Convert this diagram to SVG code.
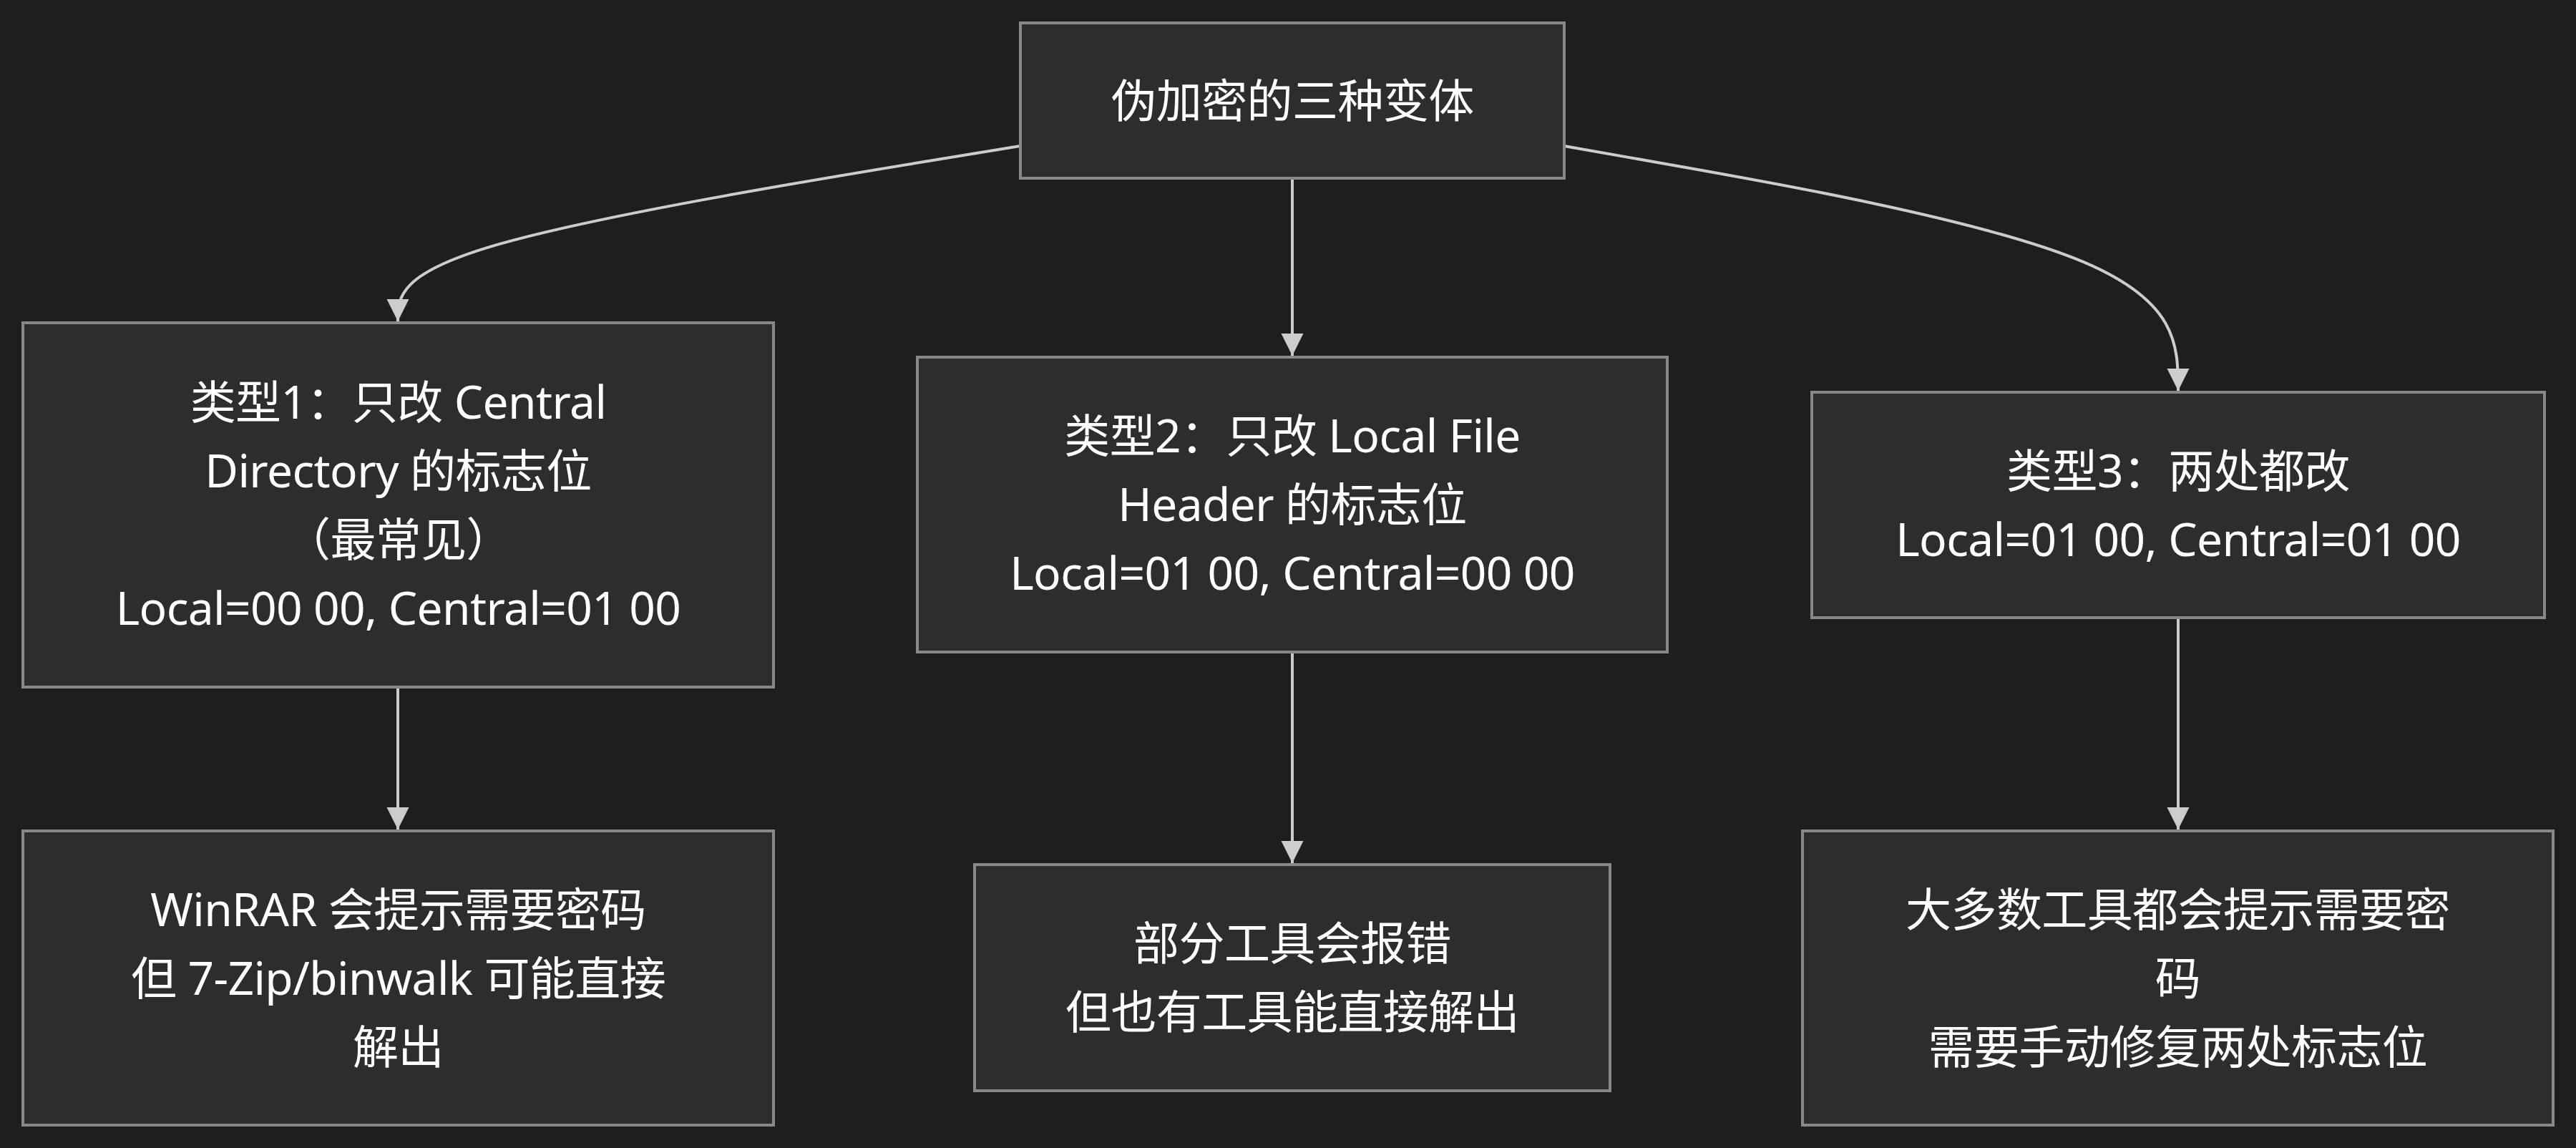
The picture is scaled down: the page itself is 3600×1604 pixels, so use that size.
<svg xmlns="http://www.w3.org/2000/svg" width="3600" height="1604" viewBox="0 0 3600 1604">
  <style>
    .node rect { fill: #2d2d2d; stroke: #888888; stroke-width: 4; }
    .node text { font-family: "Noto Sans", "Noto Sans CJK SC", sans-serif; font-size: 64px; letter-spacing: -0.6px; fill: #ffffff; text-anchor: middle; }
    .edge { fill: none; stroke: #cccccc; stroke-width: 4; }
  </style>
  <defs>
    <marker id="arrow" viewBox="0 0 10 10" refX="10" refY="5" markerUnits="userSpaceOnUse" markerWidth="31" markerHeight="32" orient="auto">
      <path d="M0,0 L10,5 L0,10 z" fill="#cccccc"/>
    </marker>
  </defs>
  <rect x="0" y="0" width="3600" height="1604" fill="#1e1e1e"/>

  <g id="connectors">
    <path class="edge" marker-end="url(#arrow)" d="M1425.5,204 L1280.6,227.8 C1135.7,251.7 845.8,299.3 700.9,340.2 C556,381 556,415 556,449"/>
    <path class="edge" marker-end="url(#arrow)" d="M1806,251 L1806,497"/>
    <path class="edge" marker-end="url(#arrow)" d="M2186,204 L2329,229.2 C2472,254.3 2758,304.7 2901,361.7 C3044,418.7 3044,482.3 3044,546"/>
    <path class="edge" marker-end="url(#arrow)" d="M556,962 L556,1159"/>
    <path class="edge" marker-end="url(#arrow)" d="M1806,913 L1806,1206"/>
    <path class="edge" marker-end="url(#arrow)" d="M3044,865 L3044,1159"/>
  </g>

  <g id="root" class="node">
    <rect x="1426" y="32" width="760" height="217"/>
    <text x="1806" y="164">伪加密的三种变体</text>
  </g>

  <g id="type1" class="node">
    <rect x="32" y="451" width="1049" height="509"/>
    <text x="556.5" y="584.5">类型1：只改 Central</text>
    <text x="556.5" y="680.5">Directory 的标志位</text>
    <text x="556.5" y="776.5">（最常见）</text>
    <text x="556.5" y="872.5">Local=00 00, Central=01 00</text>
  </g>

  <g id="type2" class="node">
    <rect x="1282" y="499" width="1048" height="412"/>
    <text x="1806" y="632">类型2：只改 Local File</text>
    <text x="1806" y="728">Header 的标志位</text>
    <text x="1806" y="824">Local=01 00, Central=00 00</text>
  </g>

  <g id="type3" class="node">
    <rect x="2532" y="548" width="1024" height="315"/>
    <text x="3044" y="680.5">类型3：两处都改</text>
    <text x="3044" y="776.5">Local=01 00, Central=01 00</text>
  </g>

  <g id="result1" class="node">
    <rect x="32" y="1161" width="1049" height="411"/>
    <text x="556.5" y="1293.5">WinRAR 会提示需要密码</text>
    <text x="556.5" y="1389.5">但 7-Zip/binwalk 可能直接</text>
    <text x="556.5" y="1485.5">解出</text>
  </g>

  <g id="result2" class="node">
    <rect x="1362" y="1208" width="888" height="316"/>
    <text x="1806" y="1341">部分工具会报错</text>
    <text x="1806" y="1437">但也有工具能直接解出</text>
  </g>

  <g id="result3" class="node">
    <rect x="2519" y="1161" width="1049" height="411"/>
    <text x="3043.5" y="1293.5">大多数工具都会提示需要密</text>
    <text x="3043.5" y="1389.5">码</text>
    <text x="3043.5" y="1485.5">需要手动修复两处标志位</text>
  </g>
</svg>
